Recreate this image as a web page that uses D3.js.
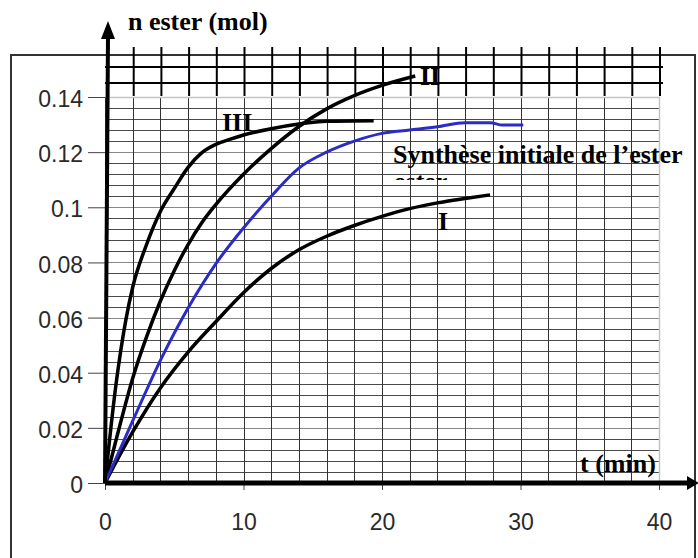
<!DOCTYPE html>
<html><head><meta charset="utf-8">
<script src="https://cdn.jsdelivr.net/npm/d3@7"></script>
<style>
html,body{margin:0;padding:0;background:#fff;}
svg{display:block;}
</style>
</head><body>
<svg id="chart" width="698" height="558"></svg>
<script>
// ---- data ----
const xTicks = [0, 10, 20, 30, 40];
const xTickLabels = ["0", "10", "20", "30", "40"];
const yTicks = [0, 0.02, 0.04, 0.06, 0.08, 0.1, 0.12, 0.14];
const yTickLabels = ["0", "0.02", "0.04", "0.06", "0.08", "0.1", "0.12", "0.14"];

const tI = [0, 2, 4, 6, 8, 10, 12, 14, 16, 18, 20, 22, 24, 26, 27.8];
const nI = [0, 0.0185, 0.0345, 0.0475, 0.0585, 0.0690, 0.0778, 0.0846, 0.0895, 0.0934, 0.0967, 0.0995, 0.1016, 0.1032, 0.1045];

const tII = [0, 1, 2, 3, 4, 5, 6, 7, 8, 10, 12, 14, 16, 18, 20, 22.4];
const nII = [0, 0.0195, 0.0380, 0.0530, 0.0660, 0.0770, 0.0865, 0.0945, 0.1010, 0.1120, 0.1213, 0.1293, 0.1357, 0.1405, 0.1442, 0.1476];

const tIII = [0, 0.8, 1.5, 2, 3, 4, 5, 6, 7, 8, 9, 10, 12, 14, 16, 19.4];
const nIII = [0, 0.036, 0.059, 0.071, 0.0865, 0.0985, 0.1068, 0.1145, 0.1198, 0.1228, 0.1246, 0.1262, 0.1285, 0.1302, 0.1312, 0.1314];

const tSyn = [0, 2, 4, 6, 8, 10, 12, 14, 16, 18, 20, 22, 24, 26, 27.8, 28.7, 30.2];
const nSyn = [0, 0.0225, 0.0445, 0.0635, 0.0795, 0.0925, 0.1040, 0.1142, 0.1200, 0.1240, 0.1268, 0.1280, 0.1292, 0.1307, 0.1307, 0.1298, 0.1298];

const curveLabels = ["I", "II", "III"];
const synLabel = "Synthèse initiale de l\u2019ester";
const xTitle = "t (min)";
const yTitle = "n ester (mol)";

// ---- scales ----
const svg = d3.select("#chart");
const x = d3.scaleLinear().domain([0, 40]).range([105, 659]);
const y = d3.scaleLinear().domain([0, 0.14]).range([483, 97]);
const px = v => Math.round(v) + 0.5;

const serif = "'Liberation Serif','Times New Roman',serif";
const sans = "'Liberation Sans',Arial,sans-serif";

// ---- outer frame ----
svg.append("path")
  .attr("d", `M11,560 L11,55 L695,55 L695,560`)
  .attr("fill", "none").attr("stroke", "#333").attr("stroke-width", 2);

// ---- grid inside plot ----
const g = svg.append("g");
const hVals = d3.range(1, 35).map(i => i * 0.004);
g.selectAll("line.h").data(hVals).join("line")
  .attr("x1", x(0)).attr("x2", x(40))
  .attr("y1", d => px(y(d))).attr("y2", d => px(y(d)))
  .attr("stroke", (d, i) => (i % 5 === 4) ? "#888" : "#4a4a4a")
  .attr("stroke-width", 1);
const vVals = d3.range(1, 20).map(i => i * 2);
g.selectAll("line.v").data(vVals).join("line")
  .attr("x1", d => px(x(d))).attr("x2", d => px(x(d)))
  .attr("y1", y(0.14)).attr("y2", y(0))
  .attr("stroke", "#333").attr("stroke-width", 1);
// plot border (light)
g.append("path")
  .attr("d", `M${x(0)},${px(y(0.14))} L${px(x(40))},${px(y(0.14))} L${px(x(40))},${y(0)}`)
  .attr("fill", "none").attr("stroke", "#c4c4c4").attr("stroke-width", 1.5);

// ---- thick grid above plot ----
const topV = d3.range(1, 21).map(i => i * 2);
svg.selectAll("line.tv").data(topV).join("line")
  .attr("x1", d => x(d) + 1).attr("x2", d => x(d) + 1)
  .attr("y1", 47).attr("y2", y(0.14) - 1)
  .attr("stroke", "#000").attr("stroke-width", 2);
[67, 83].forEach(yy => {
  svg.append("line").attr("x1", x(0)).attr("x2", x(40) + 4)
    .attr("y1", yy).attr("y2", yy)
    .attr("stroke", "#000").attr("stroke-width", 2);
});

// ---- axes (thin, with ticks) ----
const yAxis = d3.axisLeft(y).tickValues(yTicks).tickSize(17).tickSizeOuter(0)
  .tickFormat((d, i) => yTickLabels[i]).tickPadding(5);
const ya = svg.append("g").attr("transform", `translate(${x(0)},0)`).call(yAxis);
ya.select(".domain").attr("stroke", "#444");
ya.selectAll(".tick line").attr("stroke", "#444");
ya.selectAll(".tick text").attr("font-family", sans).attr("font-size", 23)
  .attr("fill", "#2a2a2a").attr("dy", "0.42em");

const xAxis = d3.axisBottom(x).tickValues(xTicks).tickSize(7).tickSizeOuter(0)
  .tickFormat((d, i) => xTickLabels[i]).tickPadding(24);
const xa = svg.append("g").attr("transform", `translate(0,${y(0)})`).call(xAxis);
xa.select(".domain").attr("stroke", "none");
xa.selectAll(".tick line").attr("stroke", "#444");
xa.selectAll(".tick text").attr("font-family", sans).attr("font-size", 23)
  .attr("fill", "#2a2a2a");

// ---- curves ----
const line = d3.line().x(d => x(d[0])).y(d => y(d[1])).curve(d3.curveMonotoneX);
const zip = (a, b) => a.map((v, i) => [v, b[i]]);
const series = [
  {t: tI, n: nI, c: "#000", w: 3.5},
  {t: tII, n: nII, c: "#000", w: 3.5},
  {t: tIII, n: nIII, c: "#000", w: 3.5},
  {t: tSyn, n: nSyn, c: "#2b2bc8", w: 3}
];
svg.selectAll("path.curve").data(series).join("path")
  .attr("class", "curve")
  .attr("d", d => line(zip(d.t, d.n)))
  .attr("fill", "none").attr("stroke", d => d.c).attr("stroke-width", d => d.w)
  .attr("stroke-linejoin", "round");

// ---- thick hand-drawn axes with arrows ----
svg.append("line").attr("x1", x(0)).attr("y1", y(0)).attr("x2", x(0) + 3).attr("y2", 36)
  .attr("stroke", "#000").attr("stroke-width", 4);
svg.append("path")
  .attr("d", `M${x(0) + 3},21 L${x(0) - 4},39 L${x(0) + 10},39 Z`).attr("fill", "#000");
svg.append("line").attr("x1", x(0)).attr("y1", y(0)).attr("x2", 690).attr("y2", y(0))
  .attr("stroke", "#000").attr("stroke-width", 5);
svg.append("path")
  .attr("d", `M699,${y(0)} L687,${y(0) - 7} L687,${y(0) + 7} Z`).attr("fill", "#000");

// ---- labels ----
const lab = (txt, xx, yy, size) => svg.append("text").text(txt)
  .attr("x", xx).attr("y", yy).attr("font-family", serif).attr("font-weight", "bold")
  .attr("font-size", size).attr("fill", "#000");
lab(yTitle, 128, 30, 26);
lab(xTitle, 580, 472, 26);
lab(curveLabels[2], 222, 131, 26);
lab(curveLabels[1], 420, 85, 26);
lab(curveLabels[0], 438, 230, 26);
lab(synLabel, 393, 163, 26);

// clipped second line "ester"
svg.append("clipPath").attr("id", "clipEster")
  .append("rect").attr("x", 380).attr("y", 172).attr("width", 120).attr("height", 8);
lab("ester", 394, 190, 26).attr("clip-path", "url(#clipEster)");
</script>
</body></html>
